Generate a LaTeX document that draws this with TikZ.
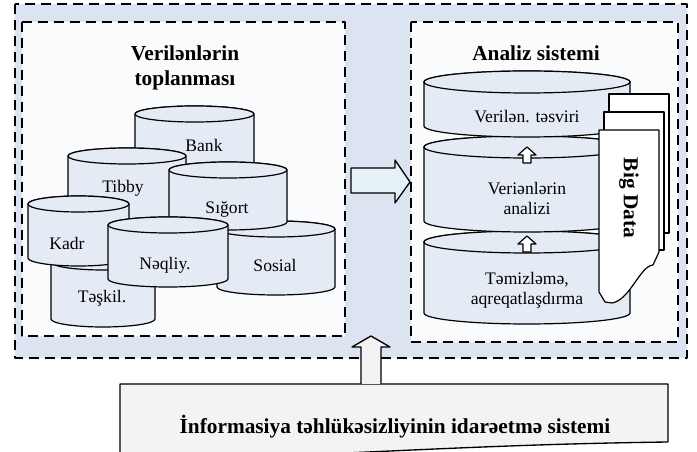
\documentclass[tikz,border=0pt]{standalone}
\usepackage{fontspec}
\setmainfont{Liberation Serif}
\definecolor{backblue}{HTML}{DBE4F0}
\definecolor{paleblue}{HTML}{F9FBFD}
\definecolor{drumblue}{HTML}{E5EBF5}
\definecolor{arrowcyan}{HTML}{E6F2F7}
\definecolor{boxgray}{HTML}{F3F3F3}

\begin{document}
\begin{tikzpicture}[x=0.75pt,y=-0.75pt,line join=round,
	frame/.style={dash pattern=on 7.5pt off 4.5pt,line width=1.1pt},
	drum/.style={fill=drumblue,line width=0.9pt},
	lbl/.style={font=\fontsize{13.2}{15}\selectfont,align=center},
	ttl/.style={font=\fontsize{16}{18.75}\selectfont\bfseries,align=center}]
	\useasboundingbox (0,0) rectangle (697,452);
	
	\draw[frame,fill=backblue] (15,4) rectangle (687,358);
	\draw[frame,fill=paleblue] (22,22) rectangle (345,336);
	\draw[frame,fill=paleblue] (411,22) rectangle (678,342);
	
	\node[ttl] (collect) at (185,68) {Verilənlərin\\toplanması};
	\node[ttl] (analysis) at (536,53) {Analiz sistemi};
	
	% data sources
	\foreach \n/\cx/\rx/\ty/\by/\lx/\ly/\txt in {bank/194.5/59.5/114/176/204/145/Bank,
			tibby/127/59/156/218/123/188/Tibby,
			sosial/276/59/229/287/275/265/Sosial,
			sigort/228/59/170/222/227/209/Sığort,
			teskil/103/52/262/319/102/298/Təşkil.,
			kadr/78.5/50.5/204/258/67/243/Kadr,
			neqliy/168/60/225/279/165/265/Nəqliy.}{
		\filldraw[drum] (\cx-\rx,\ty) -- (\cx-\rx,\by) arc [start angle=180,end angle=0,x radius=\rx,y radius=8] -- (\cx+\rx,\ty) arc [start angle=0,end angle=-180,x radius=\rx,y radius=8] -- cycle;
		\draw[drum] (\cx,\ty) ellipse [x radius=\rx,y radius=8];
		\node[lbl] (\n) at (\lx,\ly) {\txt};
	}
	
	% analysis layers
	\foreach \n/\ty/\by/\ly/\txt in {clean/242/313/290/{Təmizləmə,\\aqreqatlaşdırma},
			anal/147/221/198/{Veriənlərin\\analizi},
			desc/82/126/117/{Verilən. təsviri}}{
		\filldraw[drum] (424,\ty) -- (424,\by) arc [start angle=180,end angle=0,x radius=103,y radius=11] -- (630,\ty) arc [start angle=0,end angle=-180,x radius=103,y radius=11] -- cycle;
		\draw[drum] (527,\ty) ellipse [x radius=103,y radius=11];
		\node[lbl] (\n) at (527,\ly) {\txt};
	}
	\foreach \y in {147,236}
		\draw[fill=white,line width=0.9pt] (523,\y+16) -- (523,\y+8) -- (518,\y+8) -- (527,\y) -- (536,\y+8) -- (531,\y+8) -- (531,\y+16) -- cycle;
	
	\draw[fill=white,line width=0.9pt] (609,94) rectangle (669,233);
	\draw[fill=white,line width=0.9pt] (604,112) rectangle (664,250);
	\draw[fill=white,line width=0.9pt] (599,130) -- (659,130) -- (659,252) -- (653,265) .. controls (640,266) and (630,300) .. (612,303) -- (605,302) -- (599,292) -- cycle;
	\node[ttl,rotate=-90] (bigdata) at (629,198) {Big Data};
	
	\draw[fill=arrowcyan,line width=1pt] (351,168) -- (395,168) -- (395,160) -- (410,182) -- (395,203) -- (395,193) -- (351,193) -- cycle;
	
	\draw[fill=boxgray,line width=1pt] (120,384) -- (668,384) -- (668,442) .. controls (520,444) and (420,450) .. (300,455) .. controls (220,458) and (160,458) .. (120,456) -- cycle;
	\node[ttl] (isms) at (395,427) {İnformasiya təhlükəsizliyinin idarəetmə sistemi};
	\draw[fill=boxgray,line width=1pt] (361,384) -- (361,347) -- (352,347) -- (371,336) -- (390,347) -- (381,347) -- (381,384);
\end{tikzpicture}
\end{document}
